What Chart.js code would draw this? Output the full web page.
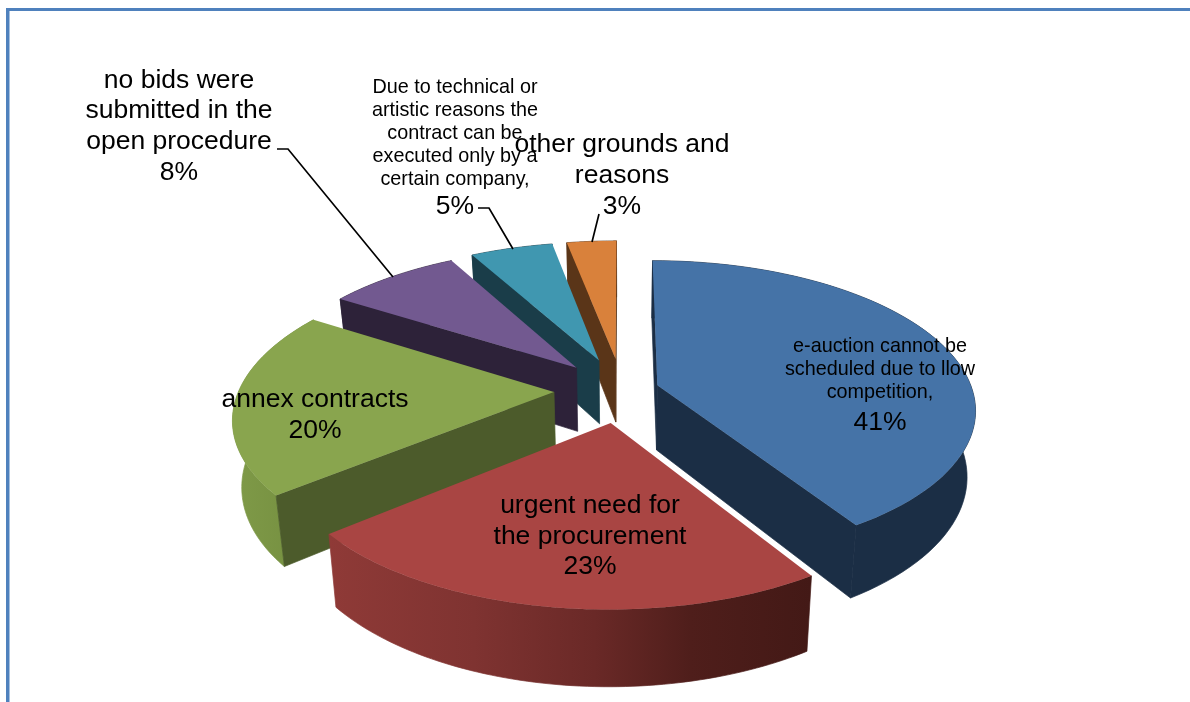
<!DOCTYPE html>
<html>
<head>
<meta charset="utf-8">
<title>Grounds for negotiated procedures</title>
<script src="https://cdn.jsdelivr.net/npm/chart.js@4/dist/chart.umd.min.js"></script>
<style>
  html, body { margin: 0; padding: 0; background: #fff; }
  canvas { display: block; }
</style>
</head>
<body>
<canvas id="pie" width="1190" height="702"></canvas>
<script>
// Share of each ground, percent
const categories = [
  "e-auction cannot be scheduled due to llow competition,",
  "urgent need for the procurement",
  "annex contracts",
  "no bids were submitted in the open procedure",
  "Due to technical or artistic reasons the contract can be executed only by a certain company,",
  "other grounds and reasons"
];
const shares = [41, 23, 20, 8, 5, 3];

// Slice pull-out distance in pixels of the plane
const explode = [37, 70, 68, 68, 70, 70];

// Face colours
const topColors = ["#4573a7", "#a94543", "#89a54e", "#725990", "#4097b0", "#d9813b"];
const wallColors = ["#1b2e45", "#451a17", "#4c5b2b", "#2d2239", "#1a3d49", "#5a3518"];
const rimStops = [
  [[0, "#1b2e45"], [1, "#1b2e45"]],
  [[0, "#8f3a37"], [0.3, "#7f3331"], [0.55, "#6a2927"], [0.75, "#4f1e1b"], [1, "#431916"]],
  [[0, "#7f9a48"], [1, "#748e3f"]],
  [[0, "#2d2239"], [1, "#2d2239"]],
  [[0, "#1a3d49"], [1, "#1a3d49"]],
  [[0, "#5a3518"], [1, "#5a3518"]]
];

// Text blocks: wrapped label lines, centre x, baselines, font sizes
const labelLines = [
  ["e-auction cannot be", "scheduled due to llow", "competition,"],
  ["urgent need for", "the procurement"],
  ["annex contracts"],
  ["no bids were", "submitted in the", "open procedure"],
  ["Due to technical or", "artistic reasons the", "contract can be", "executed only by a", "certain company,"],
  ["other grounds and", "reasons"]
];
const labelCentres = [880, 590, 315, 179, 455, 622];
const labelBaselines = [
  [352, 375, 398, 430],
  [513, 544, 574],
  [407, 438],
  [88, 118, 149, 180],
  [93, 116, 139, 162, 185, 214],
  [152, 183, 214]
];
const labelSizes = [19.8, 26.5, 26.5, 26.5, 19.8, 26.5];
const valueSize = 26.5;

// Leader lines from outside labels to their slices
const leaders = [
  [[277, 149], [288, 149], [393, 277]],
  [[478, 208], [489, 208], [513, 249]],
  [[599, 214], [592, 242]]
];

// Tilted-plane view of the pie
const PERSPECTIVE = 0.157;
const TILT = 0.462;
const THICKNESS = 65;
const THICKNESS_PERSPECTIVE = 0.13;
const FLOOR_SHRINK = 0.976;

function projector(el) {
  const R = el.outerRadius;
  return function (wx, wy, lower) {
    const w = 1 + PERSPECTIVE * wy;
    let sx = el.x + R * wx / w;
    let sy = el.y - R * TILT * wy / w;
    if (lower) {
      sx = el.x + (sx - el.x) * FLOOR_SHRINK;
      sy += THICKNESS / (1 + THICKNESS_PERSPECTIVE * wy);
    }
    return [sx, sy];
  };
}

function fillPoly(ctx, pts, style, sealEdges) {
  ctx.beginPath();
  pts.forEach((p, i) => (i ? ctx.lineTo(p[0], p[1]) : ctx.moveTo(p[0], p[1])));
  ctx.closePath();
  ctx.fillStyle = style;
  ctx.fill();
  if (sealEdges) {
    // Closes the hairline left between neighbouring wall polygons
    ctx.strokeStyle = style;
    ctx.lineWidth = 0.7;
    ctx.stroke();
  }
}

// A cut wall shows only when the top face lies above its upper edge
function wallFacesViewer(apex, corner, inside) {
  const dx = corner[0] - apex[0];
  if (Math.abs(dx) < 1e-6) return false;
  const lineY = apex[1] + (corner[1] - apex[1]) * (inside[0] - apex[0]) / dx;
  return inside[1] < lineY;
}

function drawSlice(ctx, el, i) {
  const project = projector(el);
  const mid = (el.startAngle + el.endAngle) / 2;
  const e = el.options.offset / el.outerRadius;
  const ox = e * Math.cos(mid), oy = -e * Math.sin(mid);

  const steps = 72, upper = [], lower = [];
  for (let s = 0; s <= steps; s++) {
    const a = el.startAngle + (el.endAngle - el.startAngle) * s / steps;
    const wx = ox + Math.cos(a), wy = oy - Math.sin(a);
    upper.push(project(wx, wy, false));
    lower.push(project(wx, wy, true));
  }
  const apexTop = project(ox, oy, false);
  const apexLow = project(ox, oy, true);
  const inside = project(ox + 0.6 * Math.cos(mid), oy - 0.6 * Math.sin(mid), false);

  // Curved outer wall
  const xs = upper.map(p => p[0]);
  const grad = ctx.createLinearGradient(Math.min(...xs), 0, Math.max(...xs), 0);
  rimStops[i].forEach(st => grad.addColorStop(st[0], st[1]));
  fillPoly(ctx, upper.concat(lower.slice().reverse()), grad, true);

  // Straight cut walls
  if (wallFacesViewer(apexTop, upper[0], inside)) {
    fillPoly(ctx, [apexTop, upper[0], lower[0], apexLow], wallColors[i], true);
  }
  if (wallFacesViewer(apexTop, upper[steps], inside)) {
    fillPoly(ctx, [apexTop, upper[steps], lower[steps], apexLow], wallColors[i], true);
  }

  // Top face
  fillPoly(ctx, [apexTop].concat(upper), topColors[i], false);
}

const pie3d = {
  id: "pie3d",
  beforeDatasetsDraw(chart) {
    const ctx = chart.ctx;
    const arcs = chart.getDatasetMeta(0).data;
    ctx.save();
    // Rear slices first, so nearer ones overlap them
    [5, 4, 3, 2, 0, 1].forEach(i => drawSlice(ctx, arcs[i], i));
    ctx.restore();
    return false;
  },
  afterDraw(chart) {
    const ctx = chart.ctx;
    ctx.save();

    // Frame along the top and left
    ctx.fillStyle = "#4f81bd";
    ctx.fillRect(6, 8, 1184, 3);
    ctx.fillRect(6, 8, 3.5, 694);

    // Leader lines
    ctx.strokeStyle = "#000";
    ctx.lineWidth = 1.7;
    leaders.forEach(path => {
      ctx.beginPath();
      path.forEach((p, k) => (k ? ctx.lineTo(p[0], p[1]) : ctx.moveTo(p[0], p[1])));
      ctx.stroke();
    });

    // Labels, each ending with its percentage
    ctx.fillStyle = "#000";
    ctx.textAlign = "center";
    ctx.textBaseline = "alphabetic";
    labelLines.forEach((lines, i) => {
      ctx.font = labelSizes[i] + 'px "Liberation Sans"';
      lines.forEach((t, k) => ctx.fillText(t, labelCentres[i], labelBaselines[i][k]));
      ctx.font = valueSize + 'px "Liberation Sans"';
      ctx.fillText(shares[i] + "%", labelCentres[i], labelBaselines[i][lines.length]);
    });
    ctx.restore();
  }
};

new Chart(document.getElementById("pie"), {
  type: "pie",
  plugins: [pie3d],
  data: {
    labels: categories,
    datasets: [{ data: shares, offset: explode, backgroundColor: topColors, borderWidth: 0 }]
  },
  options: {
    responsive: false,
    animation: false,
    radius: 315,
    layout: { padding: { left: 54, top: 78 } },
    plugins: { legend: { display: false }, tooltip: { enabled: false }, title: { display: false } }
  }
});
</script>
</body>
</html>
